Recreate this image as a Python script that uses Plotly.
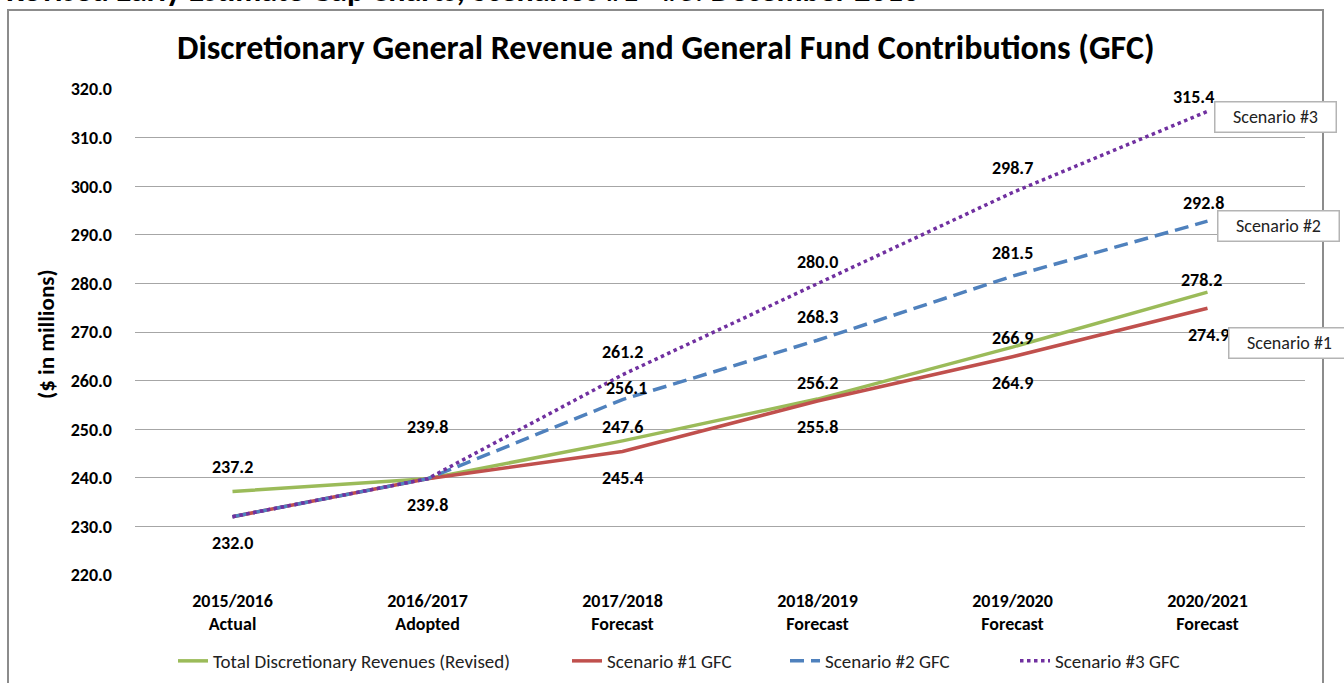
"""Discretionary General Revenue vs. GFC scenarios, Dec 2016 gap chart."""

import plotly.graph_objects as go

# ── Data ──────────────────────────────────────────────────────────────────

years = ["2015/2016", "2016/2017", "2017/2018", "2018/2019", "2019/2020", "2020/2021"]
stages = ["Actual", "Adopted", "Forecast", "Forecast", "Forecast", "Forecast"]

total_revenue = [237.2, 239.8, 247.6, 256.2, 266.9, 278.2]
scenario1_gfc = [232.0, 239.8, 245.4, 255.8, 264.9, 274.9]
scenario2_gfc = [232.0, 239.8, 256.1, 268.3, 281.5, 292.8]
scenario3_gfc = [232.0, 239.8, 261.2, 280.0, 298.7, 315.4]

y_ticks = [220, 230, 240, 250, 260, 270, 280, 290, 300, 310, 320]

# ── Styling ───────────────────────────────────────────────────────────────

FONT = "Carlito, Calibri, Lato, sans-serif"
GREEN = "#9BBB59"
RED = "#C0504D"
BLUE = "#4F81BD"
PURPLE = "#7030A0"

W, H = 1344, 683
PLOT_L, PLOT_R, PLOT_T, PLOT_B = 135, 1305, 89, 575


def px_x(px):
    return (px - PLOT_L) / (PLOT_R - PLOT_L)


def px_y(py):
    return (PLOT_B - py) / (PLOT_B - PLOT_T)


# label offsets (pixels) per series: (xshift, yshift) for each category
label_shifts = {
    "total": [(0, 24), (0, 52), (0, 14), (0, 16), (0, 9), (-6, 12)],
    "s1": [(0, -26), (0, -26), (0, -26), (0, -26), (0, -26), (1, -27)],
    "s2": [None, None, (4, 12), (0, 23), (0, 23), (-4, 18)],
    "s3": [None, None, (0, 23), (0, 21), (0, 25), (-14, 14)],
}

# where each legend entry's text starts (page px)
legend_text_x = [213, 607, 825, 1055]

x_cats = [f"{y}<br>{s}" for y, s in zip(years, stages)]

fig = go.Figure()

series = [
    ("Total Discretionary Revenues (Revised)", total_revenue, GREEN, "solid", "total"),
    ("Scenario #1 GFC", scenario1_gfc, RED, "solid", "s1"),
    ("Scenario #2 GFC", scenario2_gfc, BLUE, "14px,7px", "s2"),
    ("Scenario #3 GFC", scenario3_gfc, PURPLE, "dot", "s3"),
]

legend_ids = ["legend", "legend2", "legend3", "legend4"]

for (name, vals, color, dash, key), lg in zip(series, legend_ids):
    fig.add_trace(
        go.Scatter(
            x=x_cats,
            y=vals,
            mode="lines",
            name=name,
            legend=lg,
            line=dict(color=color, width=3.5, dash=dash),
            hovertemplate="%{y:.1f}<extra>" + name + "</extra>",
        )
    )

annotations = []
for name, vals, color, dash, key in series:
    for cat, v, shift in zip(x_cats, vals, label_shifts[key]):
        if shift is None:
            continue
        annotations.append(
            dict(
                x=cat, y=v, xref="x", yref="y",
                xanchor="center", yanchor="middle",
                text=f"{v:.1f}", showarrow=False,
                xshift=shift[0], yshift=shift[1],
                font=dict(family=FONT, size=18, color="#000000", weight="bold"),
            )
        )

# y-axis title
annotations.append(
    dict(
        x=px_x(46), y=px_y(334), xref="paper", yref="paper",
        xanchor="center", yanchor="middle",
        text="($ in millions)", textangle=-90, showarrow=False,
        font=dict(family=FONT, size=23, color="#000000", weight="bold"),
    )
)

# chart title
annotations.append(
    dict(
        x=px_x(666), y=px_y(47), xref="paper", yref="paper",
        xanchor="center", yanchor="middle",
        text="Discretionary General Revenue and General Fund Contributions (GFC)",
        showarrow=False,
        font=dict(family=FONT, size=34, color="#000000", weight="bold"),
    )
)

# page heading, cut off at the top of the picture
annotations.append(
    dict(
        x=px_x(4), y=px_y(12), xref="paper", yref="paper",
        xanchor="left", yanchor="bottom",
        text="Revised Early Estimate Gap Charts, Scenarios #1 - #3: December 2016",
        showarrow=False,
        font=dict(family=FONT, size=32, color="#000000", weight="bold"),
    )
)

# scenario call-out boxes
for label, cx, cy in [
    ("Scenario #3", 1275, 117),
    ("Scenario #2", 1278, 226),
    ("Scenario #1", 1289, 343),
]:
    annotations.append(
        dict(
            x=px_x(cx), y=px_y(cy), xref="paper", yref="paper",
            xanchor="center", yanchor="middle",
            text=label, showarrow=False,
            width=118, height=27, borderpad=1,
            bgcolor="white", bordercolor="#b4b4b4", borderwidth=1.5,
            font=dict(family=FONT, size=18, color="#222222"),
        )
    )

shapes = [
    dict(
        type="rect", xref="paper", yref="paper",
        x0=px_x(8), x1=px_x(1323), y0=px_y(700), y1=px_y(10),
        line=dict(color="#8c8c8c", width=2), fillcolor="rgba(0,0,0,0)",
        layer="below",
    )
]

legend_style = dict(
    orientation="h",
    xanchor="left", yanchor="middle",
    y=px_y(661),
    font=dict(family=FONT, size=19, color="#222222"),
    itemwidth=30,
    bgcolor="rgba(0,0,0,0)",
)
legends = {
    lg: dict(legend_style, x=px_x(tx - 40))
    for lg, tx in zip(legend_ids, legend_text_x)
}

fig.update_layout(
    width=W,
    height=H,
    margin=dict(l=PLOT_L, r=W - PLOT_R, t=PLOT_T, b=H - PLOT_B, autoexpand=False),
    paper_bgcolor="white",
    plot_bgcolor="white",
    font=dict(family=FONT, color="#000000"),
    showlegend=True,
    xaxis=dict(
        type="category",
        range=[-0.5, 5.5],
        showgrid=False,
        zeroline=False,
        showline=False,
        ticks="",
        ticklabelstandoff=13,
        tickfont=dict(family=FONT, size=18, color="#000000", weight="bold"),
        fixedrange=True,
    ),
    yaxis=dict(
        range=[220, 320],
        tickvals=y_ticks,
        tickformat=".1f",
        showgrid=True,
        gridcolor="#a6a6a6",
        gridwidth=1,
        zeroline=False,
        showline=False,
        ticklabelstandoff=22,
        tickfont=dict(family=FONT, size=18, color="#000000", weight="bold"),
        fixedrange=True,
    ),
    annotations=annotations,
    shapes=shapes,
    hovermode="closest",
    **legends,
)

# drop the default page margin so the figure sits at the window's corner
fig.write_html(
    "out.html",
    config={"displayModeBar": False},
    post_script="document.body.style.margin='0';",
)
